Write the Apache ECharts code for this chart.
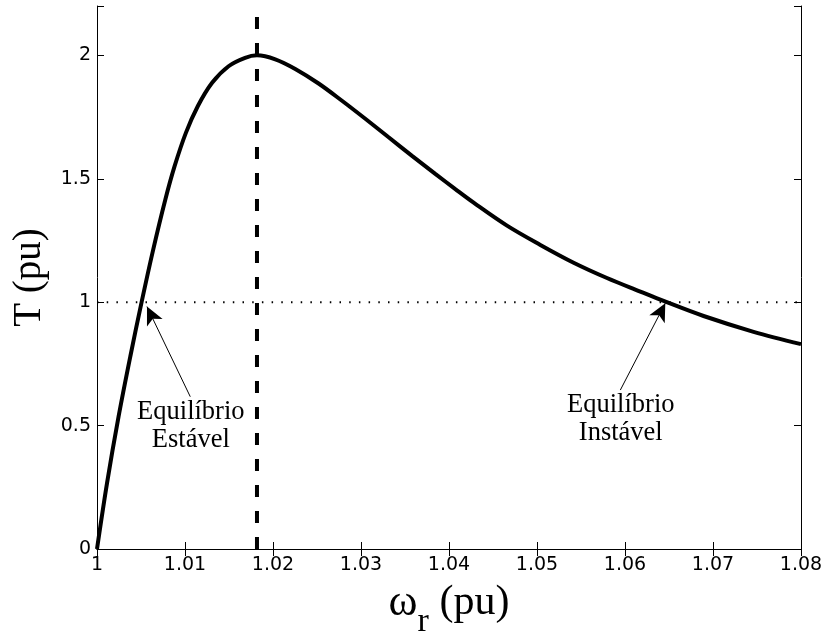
<!DOCTYPE html>
<html>
<head>
<meta charset="utf-8">
<script src="https://cdn.jsdelivr.net/npm/echarts@6/dist/echarts.min.js"></script>
<style>
  html, body { margin: 0; padding: 0; background: #fff; }
  #chart { width: 824px; height: 632px; }
</style>
</head>
<body>
<div id="chart"></div>
<script>
// Torque–speed characteristic T(ω_r), both in per unit
const omega = [
  1.00000, 1.00114, 1.00245, 1.00378, 1.00508, 1.00638, 1.00776, 1.00881,
  1.01010, 1.01145, 1.01308, 1.01495, 1.01683, 1.01818, 1.02026, 1.02253,
  1.02518, 1.02784, 1.03049, 1.03314, 1.03580, 1.03844, 1.04072, 1.04280,
  1.04659, 1.05038, 1.05416, 1.05795, 1.06174, 1.06439, 1.06893, 1.07461,
  1.08000
];
const torque = [
  0.000, 0.267, 0.536, 0.779, 1.002, 1.212, 1.415, 1.550,
  1.686, 1.794, 1.889, 1.956, 1.990, 2.000, 1.984, 1.945,
  1.886, 1.816, 1.743, 1.668, 1.593, 1.520, 1.458, 1.403,
  1.310, 1.232, 1.160, 1.098, 1.043, 1.005, 0.944, 0.880,
  0.830
];

// speed of maximum torque and the load torque level
const peakOmega = 1.01818;
const loadTorque = 1;

// axis ticks
const xTickValues = [1, 1.01, 1.02, 1.03, 1.04, 1.05, 1.06, 1.07, 1.08];
const xTickLabels = ['1', '1.01', '1.02', '1.03', '1.04', '1.05', '1.06', '1.07', '1.08'];
const yTickValues = [0, 0.5, 1, 1.5, 2];
const yTickLabels = ['0', '0.5', '1', '1.5', '2'];

// equilibrium annotations (text anchor, arrow tail, arrow tip)
const noteTexts = ['Equilíbrio\nEstável', 'Equilíbrio\nInstável'];
const noteAnchors = [[1.01066, 0.500], [1.05952, 0.528]];
const arrowTails = [[1.0106, 0.617], [1.05947, 0.644]];
const arrowTips = [[1.00568, 0.982], [1.06458, 0.996]];

const X_MIN = 1, X_MAX = 1.08, Y_MIN = 0, Y_MAX = 2.2;

function tickLabel(values, labels) {
  return function (v) {
    for (let i = 0; i < values.length; i++) {
      if (Math.abs(v - values[i]) < 1e-9) return labels[i];
    }
    return '';
  };
}

const sansTick = { color: '#000', fontFamily: 'DejaVu Sans', fontSize: 19 };
const axisLine = { show: true, lineStyle: { color: '#000', width: 1 } };
const innerTick = { show: true, inside: true, length: 7, lineStyle: { color: '#000', width: 1 } };

const chart = echarts.init(document.getElementById('chart'), null, { renderer: 'canvas' });

chart.setOption({
  animation: false,
  backgroundColor: '#fff',
  grid: { left: 97, right: 23, top: 6, bottom: 83, containLabel: false, outerBoundsMode: 'none' },
  xAxis: [
    {
      type: 'value', position: 'bottom', min: X_MIN, max: X_MAX, interval: 0.01,
      axisLine: axisLine, axisTick: innerTick, splitLine: { show: false },
      axisLabel: Object.assign({ margin: 7, formatter: tickLabel(xTickValues, xTickLabels) }, sansTick),
      name: '{w|ω}{r|r}{p| (pu)}',
      nameLocation: 'middle',
      nameGap: 18,
      nameTextStyle: {
        rich: {
          w: { fontFamily: 'Liberation Serif', fontSize: 44, color: '#000' },
          r: { fontFamily: 'Liberation Serif', fontSize: 34, color: '#000', padding: [38, 0, 0, 0] },
          p: { fontFamily: 'Liberation Serif', fontSize: 42, color: '#000' }
        }
      }
    },
    {
      type: 'value', position: 'top', min: X_MIN, max: X_MAX, interval: 0.01,
      axisLine: axisLine, axisTick: innerTick, splitLine: { show: false },
      axisLabel: { show: false }
    }
  ],
  yAxis: [
    {
      type: 'value', position: 'left', min: Y_MIN, max: Y_MAX, interval: 0.5,
      axisLine: axisLine, axisTick: innerTick, splitLine: { show: false },
      axisLabel: Object.assign({ margin: 6, formatter: tickLabel(yTickValues, yTickLabels) }, sansTick),
      name: 'T (pu)',
      nameLocation: 'middle',
      nameRotate: 90,
      nameGap: 48,
      nameTextStyle: { fontFamily: 'Liberation Serif', fontSize: 39, color: '#000' }
    },
    {
      type: 'value', position: 'right', min: Y_MIN, max: Y_MAX, interval: 0.5,
      axisLine: axisLine, axisTick: innerTick, splitLine: { show: false },
      axisLabel: { show: false }
    }
  ],
  series: [
    {
      name: 'T',
      type: 'line',
      data: omega.map((w, i) => [w, torque[i]]),
      smooth: 0.35,
      showSymbol: false,
      lineStyle: { color: '#000', width: 4 },
      z: 5
    },
    {
      name: 'Tmax',
      type: 'line',
      data: [[peakOmega, Y_MIN], [peakOmega, Y_MAX]],
      showSymbol: false,
      lineStyle: { color: '#000', width: 4, type: [12, 14] },
      z: 4
    },
    {
      name: 'Tcarga',
      type: 'line',
      data: [[X_MIN, loadTorque], [X_MAX, loadTorque]],
      showSymbol: false,
      lineStyle: { color: '#000', width: 2, type: [1.5, 8.2] },
      z: 3
    },
    {
      name: 'notas',
      type: 'scatter',
      data: noteTexts.map((t, i) => [noteAnchors[i][0], noteAnchors[i][1], t]),
      symbolSize: 0,
      silent: true,
      itemStyle: { opacity: 1 },
      label: {
        show: true, position: 'inside', formatter: p => p.data[2],
        fontFamily: 'Liberation Serif', fontSize: 26.5, lineHeight: 28,
        color: '#000', opacity: 1, align: 'center', verticalAlign: 'middle'
      },
      markLine: {
        silent: true,
        symbol: ['none', 'arrow'],
        symbolSize: [13, 18],
        lineStyle: { color: '#000', width: 1, type: 'solid', opacity: 1 },
        itemStyle: { color: '#000', opacity: 1 },
        label: { show: false },
        emphasis: { disabled: true },
        data: arrowTails.map((t, i) => [{ coord: t }, { coord: arrowTips[i] }])
      },
      z: 6
    }
  ]
});
</script>
</body>
</html>
